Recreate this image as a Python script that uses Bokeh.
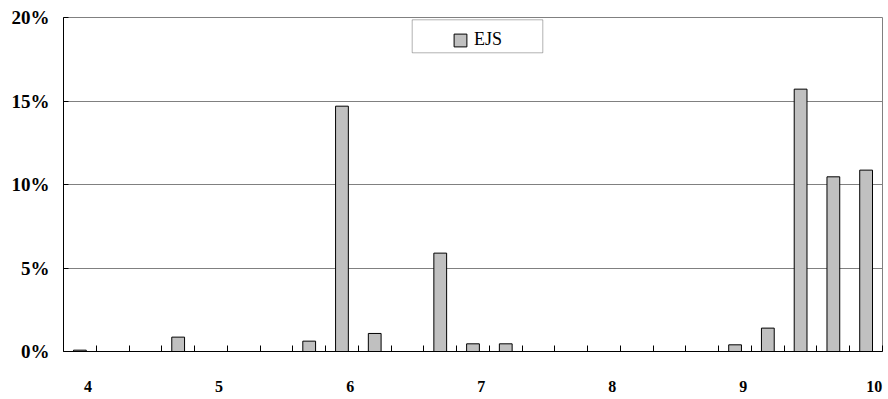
from bokeh.plotting import figure
from bokeh.models import (Range1d, FixedTicker, PrintfTickFormatter, CustomJSTickFormatter,
                          Legend, LegendItem, BoxAnnotation, ColumnDataSource)
from bokeh.embed import file_html
from bokeh.resources import INLINE

# ---- data ----
categories = [4.00, 4.25, 4.50, 4.75, 5.00, 5.25, 5.50, 5.75, 6.00, 6.25, 6.50, 6.75, 7.00,
              7.25, 7.50, 7.75, 8.00, 8.25, 8.50, 8.75, 9.00, 9.25, 9.50, 9.75, 10.00]
ejs_share = [0.08, 0.0, 0.0, 0.86, 0.0, 0.0, 0.0, 0.62, 14.69, 1.08, 0.0, 5.89, 0.46,
             0.46, 0.0, 0.0, 0.0, 0.0, 0.0, 0.0, 0.40, 1.40, 15.71, 10.46, 10.86]
series_name = "EJS"
label_values = [4, 5, 6, 7, 8, 9, 10]
y_ticks = [0, 5, 10, 15, 20]

# ---- layout constants ----
W, H = 888, 399
BL, BR, BT, BB = 63, 6, 17, 48
n = len(categories)
px_x = (W - BL - BR) / n
px_y = (H - BT - BB) / y_ticks[-1]

def sx(px):
    return (px - BL) / px_x

def sy(py):
    return (H - BB - py) / px_y

FONT = "Liberation Serif"

xc = [i + 0.5 for i in range(n)]
src = ColumnDataSource(dict(x=xc, top=ejs_share, cat=categories))

p = figure(width=W, height=H, output_backend="svg", toolbar_location=None,
           x_range=Range1d(0, n), y_range=Range1d(y_ticks[0], y_ticks[-1]),
           min_border_left=BL, min_border_right=BR, min_border_top=BT, min_border_bottom=BB)
p.background_fill_color = "white"
p.border_fill_color = "white"
p.outline_line_color = "#808080"
p.outline_line_width = 1

r = p.vbar(x="x", top="top", width=0.39, source=src,
           fill_color="#c0c0c0", line_color="black", line_width=1)

# x axis: labels shifted right within category, minor ticks at boundaries
label_ticks = [categories.index(v) + 0.75 for v in label_values]
p.xaxis.ticker = FixedTicker(ticks=label_ticks, minor_ticks=list(range(1, n + 1)))
p.xaxis.formatter = CustomJSTickFormatter(args=dict(cats=categories),
                                          code="const v = cats[Math.floor(tick)]; return String(v);")
p.xaxis.major_tick_in = 0
p.xaxis.major_tick_out = 0
p.xaxis.minor_tick_in = 6
p.xaxis.minor_tick_out = 0
p.xaxis.minor_tick_line_color = "black"
p.xaxis.axis_line_color = "black"
p.xaxis.major_label_standoff = 29
p.xaxis.major_label_text_font = FONT
p.xaxis.major_label_text_font_size = "16px"
p.xaxis.major_label_text_font_style = "bold"
p.xaxis.major_label_text_color = "black"

# y axis
p.yaxis.ticker = FixedTicker(ticks=y_ticks)
p.yaxis.formatter = PrintfTickFormatter(format="%d%%")
p.yaxis.major_tick_in = 5
p.yaxis.major_tick_out = 0
p.yaxis.minor_tick_line_color = None
p.yaxis.axis_line_color = "black"
p.yaxis.major_tick_line_color = "black"
p.yaxis.major_label_standoff = 14
p.yaxis.major_label_text_font = FONT
p.yaxis.major_label_text_font_size = "19px"
p.yaxis.major_label_text_font_style = "bold"
p.yaxis.major_label_text_color = "black"

p.xgrid.visible = False
p.ygrid.ticker = FixedTicker(ticks=y_ticks)
p.ygrid.grid_line_color = "#808080"
p.ygrid.grid_line_width = 1

# legend box border
box = BoxAnnotation(left=sx(411.7), right=sx(542.3), top=sy(19.3), bottom=sy(52.3),
                    fill_color="white", fill_alpha=1.0, line_color="black", line_width=1,
                    propagate_hover=False)
p.add_layout(box)

legend = Legend(items=[LegendItem(label=series_name, renderers=[r])],
                location=(389, 301), padding=6, margin=0, spacing=0,
                glyph_width=16, glyph_height=16, label_standoff=6,
                label_height=20,
                label_text_font=FONT, label_text_font_size="18px", label_text_color="black",
                border_line_color=None, background_fill_alpha=0)
p.add_layout(legend)

open("out.html", "w").write(file_html(p, INLINE))
